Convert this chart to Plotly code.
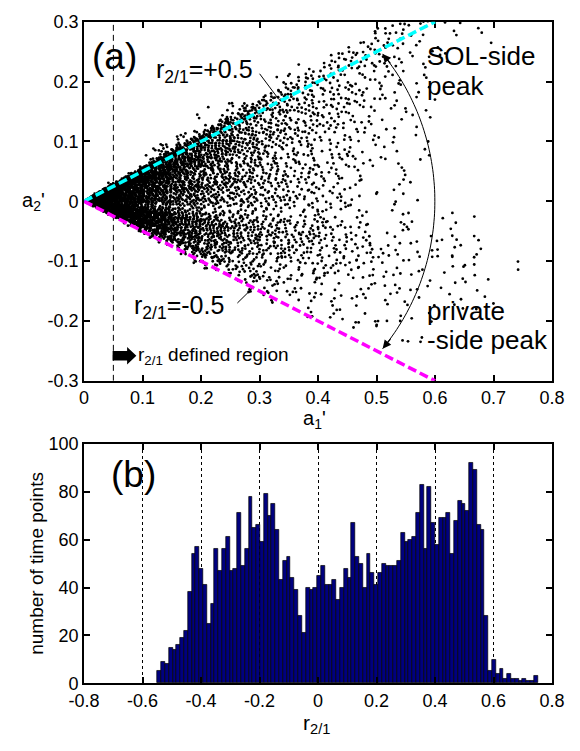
import numpy as np
import plotly.graph_objects as go

# ---------------- data ----------------
# (b) histogram of r_2/1: 100 equal bins starting at HIST_LEFT
HIST_LEFT = -0.549
HIST_WIDTH = 0.013
hist_counts = [
    5, 9, 8, 15, 14, 16, 19, 22, 38, 54,
    57, 48, 41, 25, 33, 56, 47, 56, 61, 47,
    48, 71, 49, 56, 78, 65, 66, 59, 79, 70,
    75, 64, 43, 51, 53, 44, 39, 28, 21, 40,
    39, 40, 45, 49, 41, 41, 43, 35, 40, 48,
    44, 67, 53, 50, 40, 54, 46, 41, 46, 50,
    49, 49, 49, 51, 63, 59, 60, 61, 71, 83,
    56, 82, 67, 58, 69, 69, 71, 54, 68, 76,
    75, 72, 92, 89, 66, 64, 28, 5, 10, 4,
    6, 2, 4, 2, 2, 1, 2, 1, 1, 3,
]

# (a) scatter of (a1', a2'): for every group of 10 histogram bins, the share of
# points falling in each a1' column (0.05-wide columns from 0.05 to 0.80)
a1_columns = [0.05, 0.10, 0.15, 0.20, 0.25, 0.30, 0.35, 0.40,
              0.45, 0.50, 0.55, 0.60, 0.65, 0.70, 0.75, 0.80]
band_a1_weights = [
    [45, 40, 35, 30, 20, 10, 6, 4, 4, 3, 2, 1, 0, 0, 0],
    [110, 100, 80, 60, 40, 25, 18, 12, 10, 7, 5, 2, 1, 1, 0],
    [130, 115, 92, 72, 58, 45, 35, 28, 22, 15, 10, 8, 6, 3, 2],
    [80, 70, 55, 45, 40, 38, 35, 30, 20, 10, 10, 15, 6, 3, 1],
    [80, 70, 58, 50, 45, 40, 30, 22, 12, 6, 4, 2, 1, 1, 0],
    [100, 85, 72, 60, 48, 40, 30, 22, 16, 8, 5, 3, 2, 0, 0],
    [120, 110, 90, 72, 55, 42, 35, 28, 20, 12, 6, 3, 2, 0, 0],
    [130, 120, 100, 80, 60, 45, 35, 30, 25, 20, 12, 6, 4, 2, 1],
    [90, 85, 75, 65, 50, 35, 25, 20, 20, 18, 12, 4, 2, 1, 0],
    [1, 2, 2, 2, 2, 2, 2, 2, 2, 1, 1, 0, 0, 0, 0],
]
# points inside a1' < 0.05 (left of the r_2/1 definition limit), per band
inner_counts = [25, 60, 70, 55, 50, 55, 70, 80, 60, 3]
A1_MIN = 0.05

# ---------------- build scatter points ----------------


def radical_inverse(i, base):
    f, out = 1.0, 0.0
    while i > 0:
        f /= base
        out += f * (i % base)
        i //= base
    return out


def spread(i):
    """Even (Halton 2/3) placement of the i-th point inside its cell."""
    return radical_inverse(i, 2), radical_inverse(i, 3)


def split(n, weights):
    w = np.asarray(weights, float)
    if n == 0 or w.sum() == 0:
        return [0] * len(w)
    exact = n * w / w.sum()
    base = np.floor(exact).astype(int)
    rest = n - base.sum()
    order = np.argsort(-(exact - base))
    base[order[:rest]] += 1
    return base.tolist()


a1_pts, a2_pts = [], []
idx = 1
for k, n in enumerate(hist_counts):
    band = k // 10
    r_lo = HIST_LEFT + k * HIST_WIDTH
    for j, c in enumerate(split(n, band_a1_weights[band])):
        lo, hi = a1_columns[j], a1_columns[j + 1]
        for _ in range(c):
            u, v = spread(idx)
            idx += 1
            a1 = lo + u * (hi - lo)
            r = r_lo + v * HIST_WIDTH
            a1_pts.append(a1)
            a2_pts.append(r * a1)
for b, c in enumerate(inner_counts):
    r_lo = HIST_LEFT + b * 10 * HIST_WIDTH
    for _ in range(c):
        u, v = spread(idx)
        idx += 1
        a1 = 0.003 + u * (A1_MIN - 0.003)
        r = r_lo + v * 10 * HIST_WIDTH
        a1_pts.append(a1)
        a2_pts.append(r * a1)

bin_centers = [HIST_LEFT + (k + 0.5) * HIST_WIDTH for k in range(len(hist_counts))]

# ---------------- figure ----------------
FONT = "Arial, Liberation Sans, sans-serif"
fig = go.Figure()

fig.add_trace(go.Scatter(
    x=a1_pts, y=a2_pts, mode="markers",
    marker=dict(color="black", size=2.8, line=dict(width=0)),
    xaxis="x", yaxis="y", hoverinfo="skip", showlegend=False,
))

fig.add_trace(go.Bar(
    x=bin_centers, y=hist_counts, width=HIST_WIDTH,
    marker=dict(color="#00007F", line=dict(color="black", width=0.7)),
    xaxis="x2", yaxis="y2", showlegend=False,
))

XDOM = [71.7 / 580, 564.3 / 580]
axis_common = dict(
    showline=True, linecolor="black", linewidth=2, mirror="ticks",
    ticks="inside", ticklen=6, tickwidth=1.5, tickcolor="black",
    zeroline=False, showgrid=False,
    tickfont=dict(family=FONT, size=18, color="black"),
)

fig.update_layout(
    width=580, height=751,
    margin=dict(l=0, r=0, t=0, b=0),
    paper_bgcolor="white", plot_bgcolor="white",
    bargap=0,
    xaxis=dict(domain=XDOM, range=[0, 0.8], tickvals=[0, 0.1, 0.2, 0.3, 0.4, 0.5, 0.6, 0.7, 0.8],
               ticktext=["0", "0.1", "0.2", "0.3", "0.4", "0.5", "0.6", "0.7", "0.8"],
               anchor="y", **axis_common),
    yaxis=dict(domain=[1 - 381 / 751, 1 - 12 / 751], range=[-0.3, 0.3],
               tickvals=[-0.3, -0.2, -0.1, 0, 0.1, 0.2, 0.3],
               ticktext=["-0.3", "-0.2", "-0.1", "0", "0.1", "0.2", "0.3"],
               anchor="x", **axis_common),
    xaxis2=dict(domain=XDOM, range=[-0.8, 0.8],
                tickvals=[-0.8, -0.6, -0.4, -0.2, 0, 0.2, 0.4, 0.6, 0.8],
                ticktext=["-0.8", "-0.6", "-0.4", "-0.2", "0", "0.2", "0.4", "0.6", "0.8"],
                anchor="y2", **{**axis_common, "showgrid": True},
                gridcolor="black", gridwidth=1, griddash="dot"),
    yaxis2=dict(domain=[1 - 691.7 / 751, 1 - 445.7 / 751], range=[0, 100],
                tickvals=[0, 20, 40, 60, 80, 100], anchor="x2", **axis_common),
)

# reference lines r_2/1 = +0.5 / -0.5 and the a1' = 0.05 limit
fig.add_shape(type="line", xref="x", yref="y", x0=A1_MIN, x1=A1_MIN, y0=-0.3, y1=0.3,
              line=dict(color="black", width=1, dash="6px,4px"))
fig.add_shape(type="line", xref="x", yref="y", x0=0, y0=0, x1=0.6, y1=0.3,
              line=dict(color="#00FFFF", width=3.5, dash="9px,4px"))
fig.add_shape(type="line", xref="x", yref="y", x0=0, y0=0, x1=0.6, y1=-0.3,
              line=dict(color="#FF00FF", width=3.5, dash="9px,4px"))

# leader lines to the labels
fig.add_shape(type="line", xref="x", yref="y", x0=0.300, y0=0.213, x1=0.333, y1=0.170,
              line=dict(color="black", width=1))
fig.add_shape(type="line", xref="x", yref="y", x0=0.262, y0=-0.170, x1=0.287, y1=-0.146,
              line=dict(color="black", width=1))

# arc between the two peaks
th = np.radians(np.linspace(-40, 40, 81))
cx, rx, ry = 0.218, 0.3816, 0.383
arc = "M " + " L ".join(f"{cx + rx * np.cos(t):.4f},{ry * np.sin(t):.4f}" for t in th)
fig.add_shape(type="path", xref="x", yref="y", path=arc, line=dict(color="black", width=1))
tip_top = (cx + rx * np.cos(th[-1]), ry * np.sin(th[-1]))
tip_bot = (cx + rx * np.cos(th[0]), ry * np.sin(th[0]))
for (tx, ty), ay in ((tip_top, 11), (tip_bot, -11)):
    fig.add_annotation(x=tx, y=ty, xref="x", yref="y", ax=9, ay=ay, text="",
                       showarrow=True, arrowhead=2, arrowsize=1.4, arrowwidth=1.2,
                       arrowcolor="black")

# thick arrow marking the region where r_2/1 is defined
fig.add_shape(type="path", xref="x", yref="y", fillcolor="black", line=dict(width=0),
              path="M 0.0487,-0.2500 L 0.0735,-0.2500 L 0.0735,-0.2433 L 0.0893,-0.2580 "
                   "L 0.0735,-0.2727 L 0.0735,-0.2660 L 0.0487,-0.2660 Z")


def label(text, x, y, size, xref="x", yref="y", xanchor="left", yanchor="middle", angle=0):
    fig.add_annotation(text=text, x=x, y=y, xref=xref, yref=yref, xanchor=xanchor,
                       yanchor=yanchor, showarrow=False, textangle=angle,
                       font=dict(family=FONT, size=size, color="black"))


label("(a)", 0.010, 0.2416, 37)
label("r<sub>2/1</sub>=+0.5", 0.120, 0.218, 25)
label("r<sub>2/1</sub>=-0.5", 0.082, -0.177, 25)
label("SOL-side", 0.583, 0.242, 26)
label("peak", 0.583, 0.193, 26)
label("private", 0.583, -0.184, 26)
label("-side peak", 0.583, -0.232, 26)
label("r<sub>2/1</sub> defined region", 0.088, -0.259, 19)

label("(b)", -0.715, 87, 37, xref="x2", yref="y2")

# axis titles
label("a<sub>2</sub>'", 18 / 580, 1 - 197 / 751, 20, xref="paper", yref="paper", xanchor="center")
label("a<sub>1</sub>'", 314 / 580, 1 - 421 / 751, 20, xref="paper", yref="paper", xanchor="center")
label("number of time points", 22 / 580, 1 - 568 / 751, 19, xref="paper", yref="paper",
      xanchor="center", angle=-90)
label("r<sub>2/1</sub>", 316 / 580, 1 - 734 / 751, 21, xref="paper", yref="paper", xanchor="center")

fig.write_html("out.html")
